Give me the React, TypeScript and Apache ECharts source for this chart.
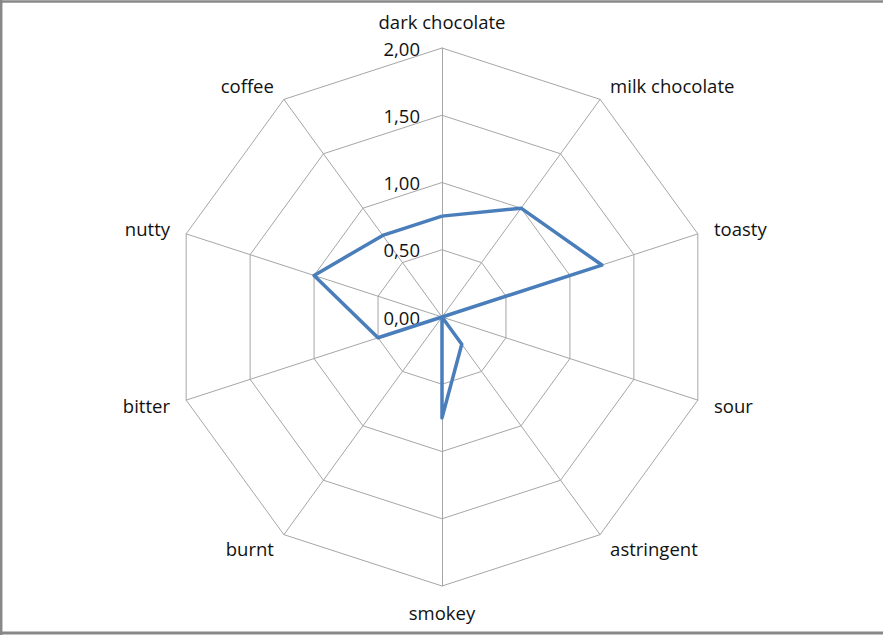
import React, { useEffect, useRef } from "react";
import * as echarts from "echarts";

const categories = [
  "dark chocolate",
  "milk chocolate",
  "toasty",
  "sour",
  "astringent",
  "smokey",
  "burnt",
  "bitter",
  "nutty",
  "coffee",
];
const values = [0.75, 1.0, 1.25, 0, 0.25, 0.75, 0, 0.5, 1.0, 0.75];
const axisMin = 0;
const axisMax = 2;
const axisInterval = 0.5;

// ECharts lays out radar indicators counter-clockwise; Excel goes clockwise.
const order = [0, ...categories.map((_, i) => i).slice(1).reverse()];

export default function App() {
  const ref = useRef<HTMLDivElement>(null);
  useEffect(() => {
    if (!ref.current) return;
    const chart = echarts.init(ref.current, undefined, { renderer: "svg" });
    const font = "'Open Sans', sans-serif";
    chart.setOption({
      animation: false,
      backgroundColor: "#ffffff",
      graphic: [
        { type: "line", shape: { x1: 1.2, y1: 0, x2: 1.2, y2: 635 }, style: { stroke: "#888", lineWidth: 2.5 } },
        { type: "line", shape: { x1: 0, y1: 1.5, x2: 883, y2: 1.5 }, style: { stroke: "#888", lineWidth: 2.5 } },
        { type: "line", shape: { x1: 0, y1: 633, x2: 883, y2: 633 }, style: { stroke: "#888", lineWidth: 3 } },
      ],
      radar: {
        center: [442, 317],
        radius: 269,
        startAngle: 90,
        shape: "polygon",
        splitNumber: (axisMax - axisMin) / axisInterval,
        nameGap: 17,
        axisName: { color: "#111", fontSize: 18.5, fontFamily: font },
        axisLine: { lineStyle: { color: "#a6a6a6", width: 1 } },
        splitLine: { lineStyle: { color: "#a6a6a6", width: 1 } },
        splitArea: { show: false },
        axisTick: { show: false },
        axisLabel: {
          show: true,
          margin: 22,
          color: "#111",
          fontSize: 18.5,
          fontFamily: font,
          formatter: (v: number) => v.toFixed(2).replace(".", ","),
        },
        indicator: order.map((idx, k) => ({
          name: categories[idx],
          min: axisMin,
          max: axisMax,
          axisLabel: { show: k === 0 },
        })),
      },
      series: [
        {
          type: "radar",
          symbol: "none",
          lineStyle: { color: "#4a7ebb", width: 3.5 },
          itemStyle: { color: "#4a7ebb" },
          data: [{ value: order.map((idx) => values[idx]), name: "profile" }],
        },
      ],
    });
    return () => chart.dispose();
  }, []);
  return (
    <div
      ref={ref}
      style={{ position: "absolute", left: 0, top: 0, width: 883, height: 635 }}
    />
  );
}
